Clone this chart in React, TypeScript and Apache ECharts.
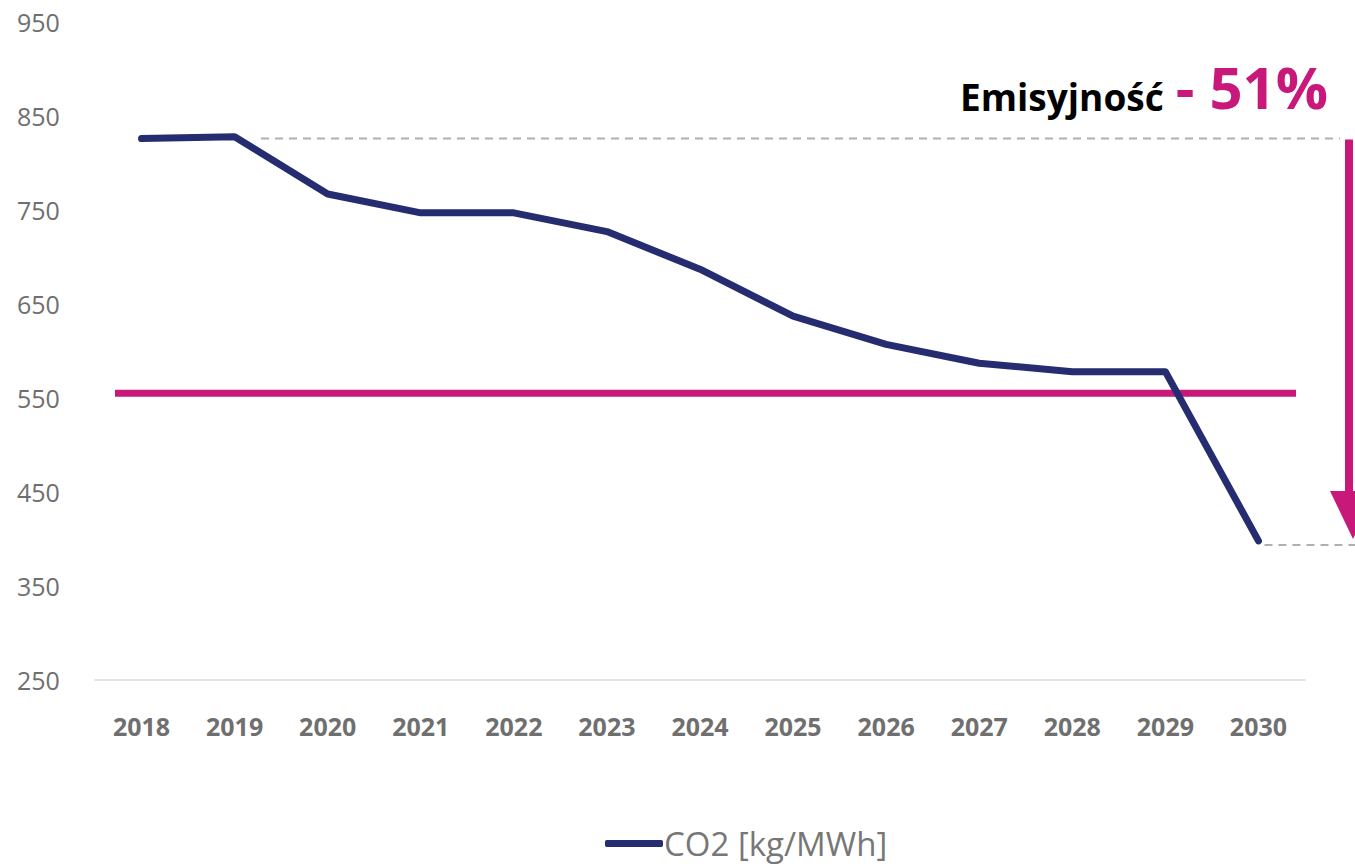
import React, { useEffect, useRef } from "react";
import * as echarts from "echarts";

const years = ["2018", "2019", "2020", "2021", "2022", "2023", "2024", "2025", "2026", "2027", "2028", "2029", "2030"];
const co2 = [826, 828, 767, 747, 747, 727, 687, 637, 607, 587, 578, 578, 398];
const targetValue = 555;
const seriesName = "CO2 [kg/MWh]";
const titleText = "Emisyjność";
const changeText = "- 51%";

const FONT = "'Open Sans', 'Noto Sans', sans-serif";
const BLUE = "#262c70";
const MAGENTA = "#c8197b";

export default function App() {
  const ref = useRef<HTMLDivElement>(null);
  useEffect(() => {
    const chart = echarts.init(ref.current!, null, { renderer: "svg" });
    chart.setOption({
      animation: false,
      grid: { left: 95, right: 50, top: 22, bottom: 186, containLabel: false },
      legend: {
        data: [{ name: seriesName, icon: "roundRect" }],
        top: 822,
        left: 600,
        itemWidth: 58,
        itemHeight: 7,
        itemGap: 4,
        textStyle: { fontFamily: FONT, fontSize: 33, color: "#777777", padding: [0, 0, 0, -4] },
      },
      xAxis: {
        type: "category",
        data: years,
        boundaryGap: true,
        axisLine: { lineStyle: { color: "#e3e3e3", width: 2 } },
        axisTick: { show: false },
        axisLabel: { fontFamily: FONT, fontSize: 25, fontWeight: "bold", color: "#6f6f6f", margin: 33 },
      },
      yAxis: {
        type: "value",
        min: 250,
        max: 950,
        interval: 100,
        splitLine: { show: false },
        axisLine: { show: false },
        axisTick: { show: false },
        axisLabel: { fontFamily: FONT, fontSize: 25, color: "#6f6f6f", align: "left", margin: 78 },
      },
      series: [
        {
          name: seriesName,
          type: "line",
          data: co2,
          symbol: "none",
          lineStyle: { color: BLUE, width: 7, cap: "round", join: "round" },
          itemStyle: { color: BLUE },
          z: 3,
        },
      ],
    });

    const yOf = (v: number) => chart.convertToPixel({ yAxisIndex: 0 }, v) as number;
    const yStart = yOf(co2[0]);
    const yEnd = yOf(co2[co2.length - 1]);
    const yTarget = yOf(targetValue);
    const xLast = chart.convertToPixel({ xAxisIndex: 0 }, years[years.length - 1]) as number;

    chart.setOption({
      graphic: [
        {
          type: "line",
          shape: { x1: 115, y1: yTarget, x2: 1296, y2: yTarget },
          style: { stroke: MAGENTA, lineWidth: 7 },
          z: 2,
        },
        {
          type: "line",
          shape: { x1: 261, y1: yStart, x2: 1340, y2: yStart },
          style: { stroke: "#b0b0b0", lineWidth: 2, lineDash: [8, 6] },
          z: 1,
        },
        {
          type: "line",
          shape: { x1: xLast + 6, y1: yEnd + 4, x2: 1355, y2: yEnd + 4 },
          style: { stroke: "#b0b0b0", lineWidth: 2, lineDash: [8, 6] },
          z: 1,
        },
        {
          type: "line",
          shape: { x1: 1349, y1: yStart + 1, x2: 1349, y2: 495 },
          style: { stroke: MAGENTA, lineWidth: 8 },
          z: 2,
        },
        {
          type: "polygon",
          shape: { points: [[1330, 491], [1376, 491], [1353, yEnd - 2]] },
          style: { fill: MAGENTA },
          z: 2,
        },
        {
          type: "text",
          x: 1328,
          y: 115,
          style: {
            text: "{a|" + titleText + "}{b|" + changeText + "}",
            align: "right",
            verticalAlign: "bottom",
            rich: {
              a: { fontFamily: FONT, fontSize: 37, fontWeight: "bold", fill: "#000000", verticalAlign: "bottom" },
              b: { fontFamily: FONT, fontSize: 58, fontWeight: "bold", fill: MAGENTA, verticalAlign: "bottom", padding: [0, 0, 0, 12] },
            },
          },
          z: 5,
        },
      ],
    });
    return () => chart.dispose();
  }, []);
  return <div ref={ref} style={{ width: 1355, height: 866, position: "absolute", left: 0, top: 0 }} />;
}
